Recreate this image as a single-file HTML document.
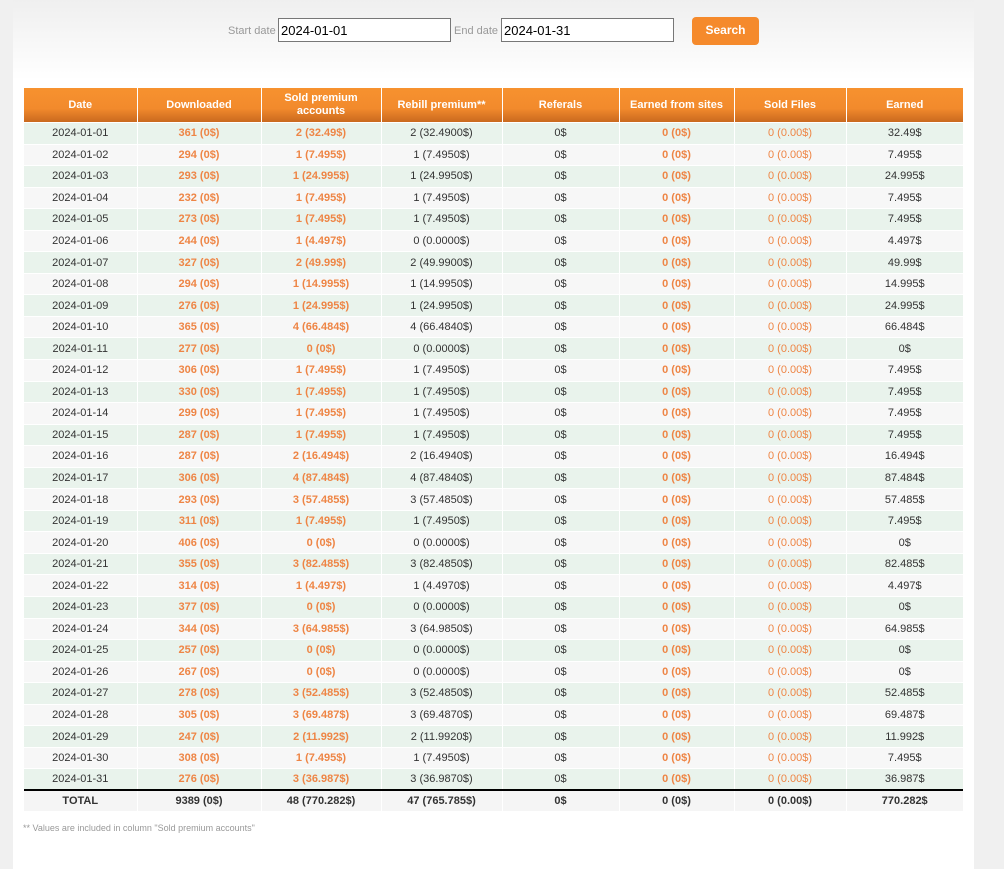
<!DOCTYPE html>
<html><head><meta charset="utf-8"><style>
body{margin:0;background:#f0f0f0;font-family:"Liberation Sans",Arial,sans-serif;width:1004px;height:869px;overflow:hidden;position:relative}
.box{position:absolute;left:13px;top:0;width:961px;height:869px;background:linear-gradient(#efefef 0,#fff 80px,#fff)}
.form{position:absolute;top:18px;left:0;width:1004px;height:24px;font-size:11px;color:#999}
.form span{position:absolute;top:7px}
.form input{position:absolute;top:0;height:24px;box-sizing:border-box;border:1px solid #777;font:13px "Liberation Sans",Arial,sans-serif;padding:2px 2px;margin:0}
.btn{position:absolute;left:692px;top:-1px;width:67px;height:28px;background:#f58a2c;border-radius:4px;color:#fff;font-weight:bold;font-size:12px;text-align:center;line-height:27px}
table{position:absolute;left:24px;top:88px;width:939px;border-collapse:collapse;font-size:11px;table-layout:fixed}
th{height:34px;padding:0;color:#fff;font-weight:bold;background:linear-gradient(#f7922f 0,#f28a2c 60%,#c9691f 100%);border-left:1px solid #fff;line-height:13px;font-size:11px}
th:first-child{border-left:none}
td{height:21.55px;padding:0;text-align:center;color:#333;border-left:1px solid #fff;border-top:1px solid #fff;box-sizing:border-box}
td:first-child{border-left:none}
tr:nth-child(odd) td{background:#e9f3ec}
tr:nth-child(even) td{background:#f7f7f7}
td.o{color:#ee8545;font-weight:bold}
td.p{color:#ee8545}
tr.t td{background:#f5f5f5;border-top:2px solid #000;font-weight:bold;height:21px}
.note{position:absolute;left:23px;top:823px;font-size:9px;color:#999}
</style></head><body>
<div class="box"></div>
<div class="form">
<span style="left:228px">Start date</span><input style="left:278px;width:173px" value="2024-01-01">
<span style="left:454px">End date</span><input style="left:501px;width:173px" value="2024-01-31">
<div class="btn">Search</div>
</div>
<table>
<colgroup><col style="width:113px"><col style="width:124px"><col style="width:120px"><col style="width:121px"><col style="width:117px"><col style="width:115px"><col style="width:112px"><col style="width:117px"></colgroup>
<thead><tr><th>Date</th><th>Downloaded</th><th>Sold premium<br>accounts</th><th>Rebill premium**</th><th>Referals</th><th>Earned from sites</th><th>Sold Files</th><th>Earned</th></tr></thead>
<tbody>
<tr><td>2024-01-01</td><td class="o">361 (0$)</td><td class="o">2 (32.49$)</td><td>2 (32.4900$)</td><td>0$</td><td class="o">0 (0$)</td><td class="p">0 (0.00$)</td><td>32.49$</td></tr>
<tr><td>2024-01-02</td><td class="o">294 (0$)</td><td class="o">1 (7.495$)</td><td>1 (7.4950$)</td><td>0$</td><td class="o">0 (0$)</td><td class="p">0 (0.00$)</td><td>7.495$</td></tr>
<tr><td>2024-01-03</td><td class="o">293 (0$)</td><td class="o">1 (24.995$)</td><td>1 (24.9950$)</td><td>0$</td><td class="o">0 (0$)</td><td class="p">0 (0.00$)</td><td>24.995$</td></tr>
<tr><td>2024-01-04</td><td class="o">232 (0$)</td><td class="o">1 (7.495$)</td><td>1 (7.4950$)</td><td>0$</td><td class="o">0 (0$)</td><td class="p">0 (0.00$)</td><td>7.495$</td></tr>
<tr><td>2024-01-05</td><td class="o">273 (0$)</td><td class="o">1 (7.495$)</td><td>1 (7.4950$)</td><td>0$</td><td class="o">0 (0$)</td><td class="p">0 (0.00$)</td><td>7.495$</td></tr>
<tr><td>2024-01-06</td><td class="o">244 (0$)</td><td class="o">1 (4.497$)</td><td>0 (0.0000$)</td><td>0$</td><td class="o">0 (0$)</td><td class="p">0 (0.00$)</td><td>4.497$</td></tr>
<tr><td>2024-01-07</td><td class="o">327 (0$)</td><td class="o">2 (49.99$)</td><td>2 (49.9900$)</td><td>0$</td><td class="o">0 (0$)</td><td class="p">0 (0.00$)</td><td>49.99$</td></tr>
<tr><td>2024-01-08</td><td class="o">294 (0$)</td><td class="o">1 (14.995$)</td><td>1 (14.9950$)</td><td>0$</td><td class="o">0 (0$)</td><td class="p">0 (0.00$)</td><td>14.995$</td></tr>
<tr><td>2024-01-09</td><td class="o">276 (0$)</td><td class="o">1 (24.995$)</td><td>1 (24.9950$)</td><td>0$</td><td class="o">0 (0$)</td><td class="p">0 (0.00$)</td><td>24.995$</td></tr>
<tr><td>2024-01-10</td><td class="o">365 (0$)</td><td class="o">4 (66.484$)</td><td>4 (66.4840$)</td><td>0$</td><td class="o">0 (0$)</td><td class="p">0 (0.00$)</td><td>66.484$</td></tr>
<tr><td>2024-01-11</td><td class="o">277 (0$)</td><td class="o">0 (0$)</td><td>0 (0.0000$)</td><td>0$</td><td class="o">0 (0$)</td><td class="p">0 (0.00$)</td><td>0$</td></tr>
<tr><td>2024-01-12</td><td class="o">306 (0$)</td><td class="o">1 (7.495$)</td><td>1 (7.4950$)</td><td>0$</td><td class="o">0 (0$)</td><td class="p">0 (0.00$)</td><td>7.495$</td></tr>
<tr><td>2024-01-13</td><td class="o">330 (0$)</td><td class="o">1 (7.495$)</td><td>1 (7.4950$)</td><td>0$</td><td class="o">0 (0$)</td><td class="p">0 (0.00$)</td><td>7.495$</td></tr>
<tr><td>2024-01-14</td><td class="o">299 (0$)</td><td class="o">1 (7.495$)</td><td>1 (7.4950$)</td><td>0$</td><td class="o">0 (0$)</td><td class="p">0 (0.00$)</td><td>7.495$</td></tr>
<tr><td>2024-01-15</td><td class="o">287 (0$)</td><td class="o">1 (7.495$)</td><td>1 (7.4950$)</td><td>0$</td><td class="o">0 (0$)</td><td class="p">0 (0.00$)</td><td>7.495$</td></tr>
<tr><td>2024-01-16</td><td class="o">287 (0$)</td><td class="o">2 (16.494$)</td><td>2 (16.4940$)</td><td>0$</td><td class="o">0 (0$)</td><td class="p">0 (0.00$)</td><td>16.494$</td></tr>
<tr><td>2024-01-17</td><td class="o">306 (0$)</td><td class="o">4 (87.484$)</td><td>4 (87.4840$)</td><td>0$</td><td class="o">0 (0$)</td><td class="p">0 (0.00$)</td><td>87.484$</td></tr>
<tr><td>2024-01-18</td><td class="o">293 (0$)</td><td class="o">3 (57.485$)</td><td>3 (57.4850$)</td><td>0$</td><td class="o">0 (0$)</td><td class="p">0 (0.00$)</td><td>57.485$</td></tr>
<tr><td>2024-01-19</td><td class="o">311 (0$)</td><td class="o">1 (7.495$)</td><td>1 (7.4950$)</td><td>0$</td><td class="o">0 (0$)</td><td class="p">0 (0.00$)</td><td>7.495$</td></tr>
<tr><td>2024-01-20</td><td class="o">406 (0$)</td><td class="o">0 (0$)</td><td>0 (0.0000$)</td><td>0$</td><td class="o">0 (0$)</td><td class="p">0 (0.00$)</td><td>0$</td></tr>
<tr><td>2024-01-21</td><td class="o">355 (0$)</td><td class="o">3 (82.485$)</td><td>3 (82.4850$)</td><td>0$</td><td class="o">0 (0$)</td><td class="p">0 (0.00$)</td><td>82.485$</td></tr>
<tr><td>2024-01-22</td><td class="o">314 (0$)</td><td class="o">1 (4.497$)</td><td>1 (4.4970$)</td><td>0$</td><td class="o">0 (0$)</td><td class="p">0 (0.00$)</td><td>4.497$</td></tr>
<tr><td>2024-01-23</td><td class="o">377 (0$)</td><td class="o">0 (0$)</td><td>0 (0.0000$)</td><td>0$</td><td class="o">0 (0$)</td><td class="p">0 (0.00$)</td><td>0$</td></tr>
<tr><td>2024-01-24</td><td class="o">344 (0$)</td><td class="o">3 (64.985$)</td><td>3 (64.9850$)</td><td>0$</td><td class="o">0 (0$)</td><td class="p">0 (0.00$)</td><td>64.985$</td></tr>
<tr><td>2024-01-25</td><td class="o">257 (0$)</td><td class="o">0 (0$)</td><td>0 (0.0000$)</td><td>0$</td><td class="o">0 (0$)</td><td class="p">0 (0.00$)</td><td>0$</td></tr>
<tr><td>2024-01-26</td><td class="o">267 (0$)</td><td class="o">0 (0$)</td><td>0 (0.0000$)</td><td>0$</td><td class="o">0 (0$)</td><td class="p">0 (0.00$)</td><td>0$</td></tr>
<tr><td>2024-01-27</td><td class="o">278 (0$)</td><td class="o">3 (52.485$)</td><td>3 (52.4850$)</td><td>0$</td><td class="o">0 (0$)</td><td class="p">0 (0.00$)</td><td>52.485$</td></tr>
<tr><td>2024-01-28</td><td class="o">305 (0$)</td><td class="o">3 (69.487$)</td><td>3 (69.4870$)</td><td>0$</td><td class="o">0 (0$)</td><td class="p">0 (0.00$)</td><td>69.487$</td></tr>
<tr><td>2024-01-29</td><td class="o">247 (0$)</td><td class="o">2 (11.992$)</td><td>2 (11.9920$)</td><td>0$</td><td class="o">0 (0$)</td><td class="p">0 (0.00$)</td><td>11.992$</td></tr>
<tr><td>2024-01-30</td><td class="o">308 (0$)</td><td class="o">1 (7.495$)</td><td>1 (7.4950$)</td><td>0$</td><td class="o">0 (0$)</td><td class="p">0 (0.00$)</td><td>7.495$</td></tr>
<tr><td>2024-01-31</td><td class="o">276 (0$)</td><td class="o">3 (36.987$)</td><td>3 (36.9870$)</td><td>0$</td><td class="o">0 (0$)</td><td class="p">0 (0.00$)</td><td>36.987$</td></tr>
<tr class="t"><td>TOTAL</td><td>9389 (0$)</td><td>48 (770.282$)</td><td>47 (765.785$)</td><td>0$</td><td>0 (0$)</td><td>0 (0.00$)</td><td>770.282$</td></tr>
</tbody></table>
<div class="note">** Values are included in column "Sold premium accounts"</div>
</body></html>
